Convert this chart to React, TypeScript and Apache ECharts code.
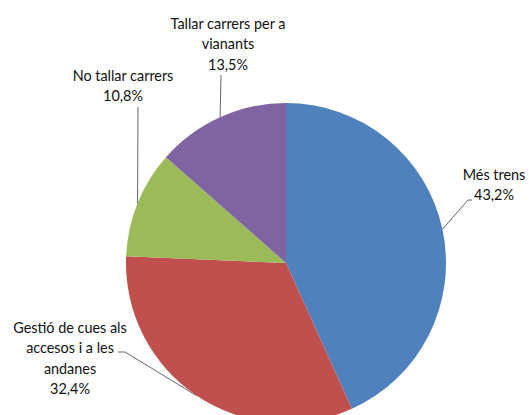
import React, { useEffect, useRef } from "react";
import * as echarts from "echarts";

const categories = [
  "Més trens",
  "Gestió de cues als\naccesos i a les\nandanes",
  "No tallar carrers",
  "Tallar carrers per a\nvianants",
];
const values = [43.2, 32.4, 10.8, 13.5];
const colors = ["#4F81BD", "#C0504D", "#9BBB59", "#8064A2"];

// label layout (positions only)
const CX = 286;
const CY = 263;
const R = 160;
const labelAnchors = [
  { x: 494, y: 164, line: [[468, 200], [472, 200]] },
  { x: 70, y: 317, line: [[125, 352], [118, 352]] },
  { x: 123, y: 65, line: [[138, 107]] },
  { x: 228, y: 13, line: [[221, 75]] },
];

export default function App() {
  const ref = useRef<HTMLDivElement>(null);
  useEffect(() => {
    if (!ref.current) return;
    const chart = echarts.init(ref.current, undefined, { renderer: "svg" });
    const total = values.reduce((a, b) => a + b, 0);
    const edgePoint = (i: number) => {
      let before = 0;
      for (let k = 0; k < i; k++) before += values[k];
      const mid = (before + values[i] / 2) / total;
      const ang = mid * Math.PI * 2;
      return [CX + R * Math.sin(ang), CY - R * Math.cos(ang)];
    };
    chart.setOption({
      animation: false,
      backgroundColor: "#ffffff",
      series: [
        {
          type: "pie",
          center: [CX, CY],
          radius: R,
          startAngle: 90,
          clockwise: true,
          avoidLabelOverlap: false,
          data: categories.map((name, i) => ({
            name,
            value: values[i],
            itemStyle: { color: colors[i] },
          })),
          label: {
            show: true,
            color: "#111111",
            fontFamily: "Lato",
            fontSize: 14.4,
            lineHeight: 20.5,
            align: "center",
            formatter: (p: any) =>
              p.name + "\n" + p.value.toFixed(1).replace(".", ",") + "%",
          },
          labelLine: {
            show: true,
            length: 10,
            length2: 10,
            lineStyle: { color: "#666666", width: 1 },
          },
          labelLayout: (params: any) => {
            const i = params.dataIndex;
            const a = labelAnchors[i];
            return {
              x: a.x,
              y: a.y,
              align: "center",
              verticalAlign: "top",
              labelLinePoints: [edgePoint(i), ...a.line],
            };
          },
        },
      ],
    });
    return () => chart.dispose();
  }, []);
  return (
    <div
      ref={ref}
      style={{
        position: "fixed",
        left: 0,
        top: 0,
        width: 529,
        height: 415,
        background: "#fff",
      }}
    />
  );
}
